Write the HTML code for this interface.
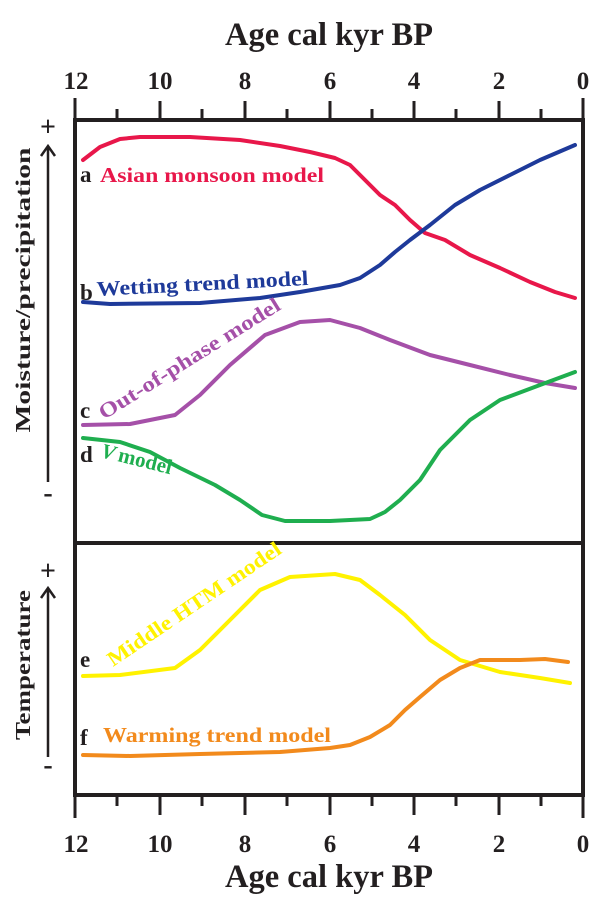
<!DOCTYPE html><html><head><style>body{margin:0;background:#fff}svg{display:block}text{font-family:"Liberation Serif",serif;font-weight:bold}</style></head><body>
<svg width="600" height="901" viewBox="0 0 600 901">
<g fill="#231f20">
<text x="329" y="45" font-size="33" text-anchor="middle" textLength="208" lengthAdjust="spacingAndGlyphs">Age cal kyr BP</text>
<text x="329" y="887" font-size="33" text-anchor="middle" textLength="208" lengthAdjust="spacingAndGlyphs">Age cal kyr BP</text>
<g font-size="25" text-anchor="middle">
<text x="76" y="89">12</text><text x="160" y="89">10</text><text x="245" y="89">8</text><text x="330" y="89">6</text><text x="414" y="89">4</text><text x="499" y="89">2</text><text x="583" y="89">0</text>
<text x="76" y="852">12</text><text x="160" y="852">10</text><text x="245" y="852">8</text><text x="330" y="852">6</text><text x="414" y="852">4</text><text x="499" y="852">2</text><text x="583" y="852">0</text>
</g>
<text transform="translate(30,290) rotate(-90)" font-size="21" text-anchor="middle" textLength="285" lengthAdjust="spacingAndGlyphs">Moisture/precipitation</text>
<text transform="translate(30,665) rotate(-90)" font-size="21" text-anchor="middle" textLength="150" lengthAdjust="spacingAndGlyphs">Temperature</text>
<text x="48" y="136" font-size="28" text-anchor="middle">+</text>
<text x="48" y="502" font-size="28" text-anchor="middle">-</text>
<text x="48" y="580" font-size="28" text-anchor="middle">+</text>
<text x="48" y="774" font-size="28" text-anchor="middle">-</text>
</g>
<g stroke="#231f20" fill="none">
<rect x="75" y="120" width="508" height="675" stroke-width="4"/>
<line x1="75" y1="543" x2="583" y2="543" stroke-width="4"/>
<path d="M75 120V98M117 120V109M160 120V101M202 120V109M245 120V101M287 120V109M330 120V101M372 120V109M414 120V101M456 120V109M499 120V101M541 120V109M583 120V98" stroke-width="3"/>
<path d="M75 795V818M117 795V806M160 795V815M202 795V806M245 795V815M287 795V806M330 795V815M372 795V806M414 795V815M456 795V806M499 795V815M541 795V806M583 795V818" stroke-width="3"/>
<path d="M48 482V146M41 156L48 146L55 156M48 757V588M41 598L48 588L55 598" stroke-width="2.5"/>
</g>
<g fill="none" stroke-width="4" stroke-linejoin="round" stroke-linecap="round">
<path stroke="#e8174a" d="M83 160L100 147L120 139L140 137L190 137L240 140L280 146L310 152L335 158L350 165L365 180L380 195L395 205L410 220L425 233L445 240L470 255L500 268L530 282L555 292L575 298"/>
<path stroke="#1e3a9a" d="M83 302L110 304L200 303L260 298L300 292L340 285L360 278L380 265L395 252L410 240L430 225L455 205L480 190L510 175L540 160L575 145"/>
<path stroke="#a550a8" d="M83 425L130 424L175 415L200 395L230 365L265 335L300 322L330 320L360 328L390 340L430 355L470 365L510 375L545 383L575 388"/>
<path stroke="#1fae4f" d="M83 438L120 442L150 452L180 468L215 485L240 500L262 515L285 521L330 521L370 519L385 512L400 500L420 480L440 450L470 420L500 400L540 385L575 372"/>
<path stroke="#fff200" d="M83 676L120 675L175 668L200 650L230 620L260 590L290 577L335 574L360 580L380 595L405 615L430 640L460 660L500 672L540 678L570 683"/>
<path stroke="#f28a1c" d="M83 755L130 756L200 754L280 752L330 748L350 745L370 737L390 725L405 710L420 697L440 680L460 668L480 660L520 660L545 659L568 662"/>
</g>
<g font-size="21">
<text x="80" y="182" fill="#231f20" font-size="23">a</text><text x="100" y="182" fill="#e8174a" textLength="224" lengthAdjust="spacingAndGlyphs">Asian monsoon model</text>
<text x="80" y="300" fill="#231f20" font-size="23">b</text><text transform="translate(97,296) rotate(-3)" fill="#1e3a9a" textLength="212" lengthAdjust="spacingAndGlyphs">Wetting trend model</text>
<text x="80" y="418" fill="#231f20" font-size="23">c</text><text transform="translate(104,420) rotate(-32)" fill="#a550a8" textLength="210" lengthAdjust="spacingAndGlyphs">Out-of-phase model</text>
<text x="80" y="462" fill="#231f20" font-size="23">d</text><text transform="translate(100,457) rotate(14)" fill="#1fae4f" font-style="italic">V</text><text transform="translate(117,461) rotate(14)" fill="#1fae4f">model</text>
<text x="80" y="667" fill="#231f20" font-size="23">e</text><text transform="translate(113,667) rotate(-34)" fill="#fff200" textLength="205" lengthAdjust="spacingAndGlyphs">Middle HTM model</text>
<text x="80" y="745" fill="#231f20" font-size="23">f</text><text x="103" y="742" fill="#f28a1c" textLength="228" lengthAdjust="spacingAndGlyphs">Warming trend model</text>
</g>
</svg></body></html>
